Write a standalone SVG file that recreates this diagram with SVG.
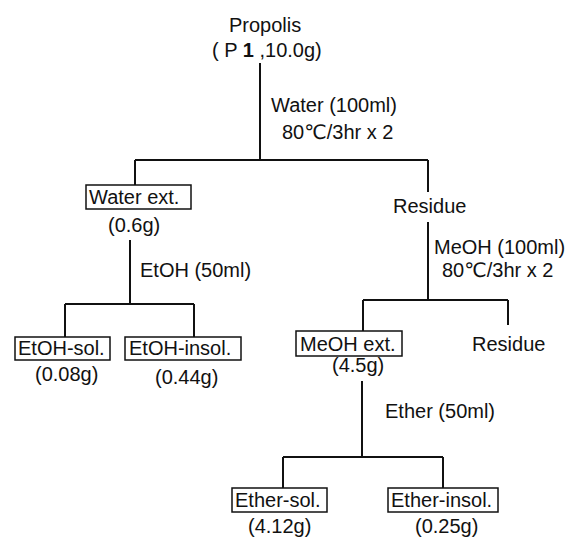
<svg xmlns="http://www.w3.org/2000/svg" width="570" height="540" viewBox="0 0 570 540">
<style>
text{font-family:"Liberation Sans","DejaVu Sans",sans-serif;font-size:20px;fill:#111}
.ln{stroke:#111;stroke-width:2;fill:none}
.bx{stroke:#111;stroke-width:1.5;fill:#fff}
</style>
<rect width="570" height="540" fill="#fff"/>
<g id="connectors">
<path class="ln" d="M260 63V160M135 160H428M135 160V185M428 160V192"/>
<path class="ln" d="M130 240V304M65 304H194M65 304V337M194 304V337"/>
<path class="ln" d="M428 222V300M363 300H508M363 300V331M508 300V325"/>
<path class="ln" d="M362 381V457M283 457H443M283 457V488M443 457V488"/>
</g>
<g id="propolis">
<text x="229" y="32">Propolis</text>
<text x="212" y="57" xml:space="preserve">( P <tspan font-weight="bold">1</tspan> ,10.0g)</text>
</g>
<g id="cond1">
<text x="271" y="112">Water (100ml)</text>
<text x="282" y="139">80℃/3hr x 2</text>
</g>
<g id="water-ext">
<rect class="bx" x="86" y="185" width="105" height="24"/>
<text x="89" y="204">Water ext.</text>
<text x="108" y="232">(0.6g)</text>
</g>
<g id="cond-etoh">
<text x="140" y="277">EtOH (50ml)</text>
</g>
<g id="etoh-sol">
<rect class="bx" x="15" y="337" width="95" height="23"/>
<text x="18" y="355">EtOH-sol.</text>
<text x="35" y="381">(0.08g)</text>
</g>
<g id="etoh-insol">
<rect class="bx" x="125" y="337" width="116" height="23"/>
<text x="129" y="355">EtOH-insol.</text>
<text x="155" y="384">(0.44g)</text>
</g>
<g id="residue1">
<text x="393" y="213">Residue</text>
</g>
<g id="cond2">
<text x="434" y="254">MeOH (100ml)</text>
<text x="442" y="277">80℃/3hr x 2</text>
</g>
<g id="meoh-ext">
<rect class="bx" x="296" y="331" width="106" height="25"/>
<text x="300" y="351">MeOH ext.</text>
<text x="332" y="372">(4.5g)</text>
</g>
<g id="residue2">
<text x="472" y="351">Residue</text>
</g>
<g id="cond-ether">
<text x="385" y="418">Ether (50ml)</text>
</g>
<g id="ether-sol">
<rect class="bx" x="232" y="488" width="95" height="24"/>
<text x="235" y="507">Ether-sol.</text>
<text x="248" y="533">(4.12g)</text>
</g>
<g id="ether-insol">
<rect class="bx" x="388" y="488" width="110" height="24"/>
<text x="391" y="507">Ether-insol.</text>
<text x="415" y="533">(0.25g)</text>
</g>
</svg>
